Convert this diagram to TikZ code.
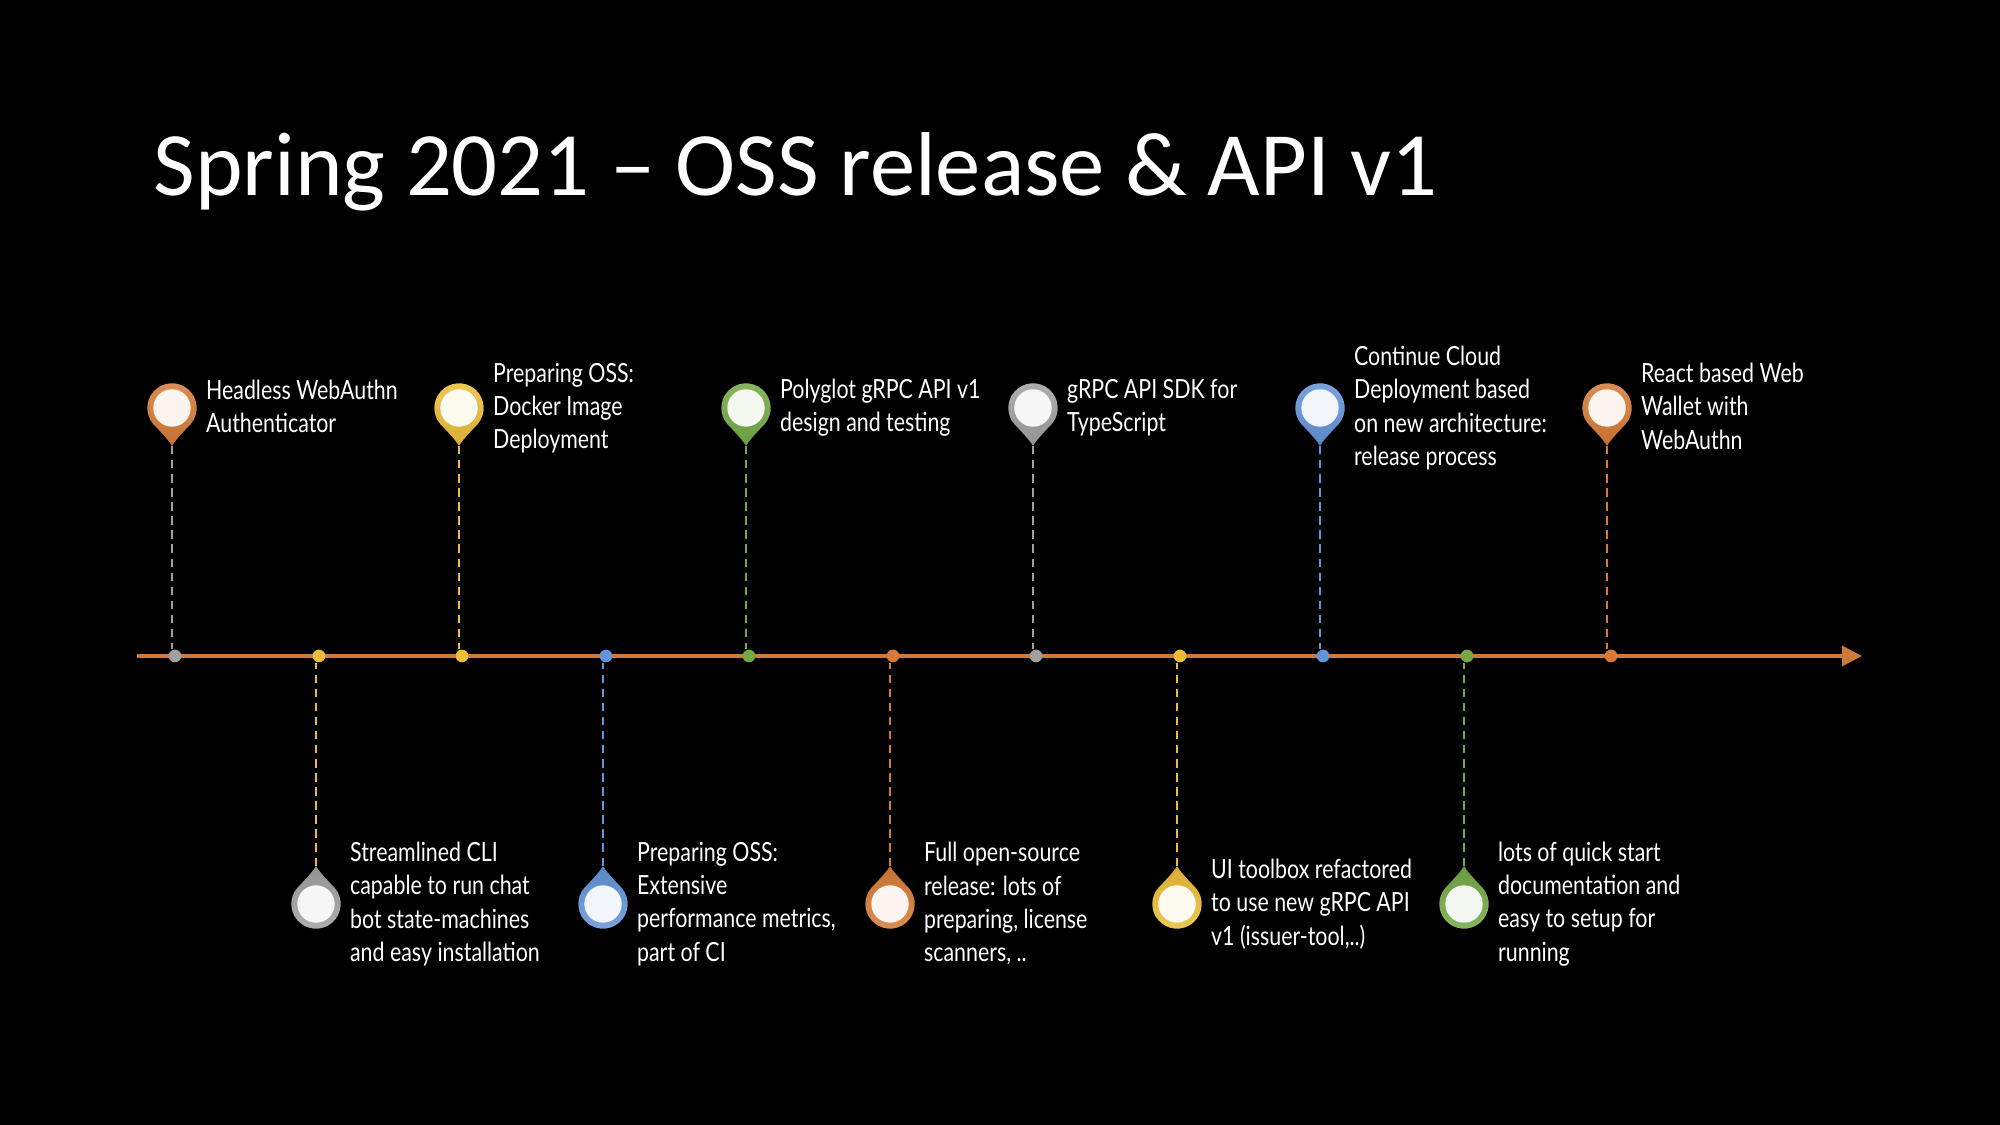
\documentclass[tikz,border=0pt]{standalone}
\usepackage{fontspec}
\setmainfont{Lato}[FakeStretch=0.81]
\newfontfamily\titlefont{Carlito}
\usetikzlibrary{positioning,arrows.meta}

\definecolor{pinorange}{HTML}{D67A36}
\definecolor{pinyellow}{HTML}{EBBD38}
\definecolor{pingreen}{HTML}{74A945}
\definecolor{pingray}{HTML}{A0A0A0}
\definecolor{pinblue}{HTML}{6393D8}
\definecolor{lineorange}{HTML}{CF7A38}

\newcommand{\lblstrut}{\rule[-1.04pt]{0pt}{7.5pt}}

\tikzset{
  lbl/.style={text=white, align=left, inner sep=0pt, font=\fontsize{7.5}{9.47}\selectfont,
    execute at begin node=\lblstrut, execute at end node=\lblstrut},
  ttl/.style={text=white, inner sep=0pt, font=\titlefont\fontsize{25.77}{30}\selectfont},
  dot/.style={circle, inner sep=0pt, minimum size=0.127cm, fill=#1},
  dashline/.style={#1, line width=0.62pt, dash pattern=on 2.4pt off 1.6pt},
  pinup/.pic={
    \fill[top color=#1!85!white, bottom color=#1!92!black]
      (-40.5:24.7) arc (-40.5:220.5:24.7) .. controls (-10,-25) and (-2,-34) .. (0,-38)
      .. controls (2,-34) and (10,-25) .. cycle;
    \node[circle, inner sep=0pt, minimum size=0.374cm, fill=#1!8!white] (-head) at (0,0) {};
    \coordinate (-tip) at (0,-38);
  },
  pindown/.pic={
    \fill[top color=#1!92!black, bottom color=#1!85!white]
      (40.5:24.7) arc (40.5:-220.5:24.7) .. controls (-10,25) and (-2,34) .. (0,38)
      .. controls (2,34) and (10,25) .. cycle;
    \node[circle, inner sep=0pt, minimum size=0.374cm, fill=#1!8!white] (-head) at (0,0) {};
    \coordinate (-tip) at (0,38);
  }
}

\begin{document}
\begin{tikzpicture}[x=0.01cm, y=0.01cm]
	\fill[black] (0,0) rectangle (2000,1125);
	\useasboundingbox (0,0) rectangle (2000,1125);

	\node[ttl, anchor=base west] (title) at (153,929) {Spring 2021 – OSS release \& API v1};

	%axis
	\coordinate (start) at (137,469);
	\coordinate (end) at (1862,469);
	\draw[lineorange, line width=0.95pt, -{Triangle[length=0.2cm, width=0.2cm]}] (start) -- (end);

	\node[dot=pingray] (d1) at (175,469) {};
	\node[dot=pinyellow] (d2) at (319,469) {};
	\node[dot=pinyellow] (d3) at (462,469) {};
	\node[dot=pinblue] (d4) at (606,469) {};
	\node[dot=pingreen] (d5) at (749,469) {};
	\node[dot=pinorange] (d6) at (893,469) {};
	\node[dot=pingray] (d7) at (1036,469) {};
	\node[dot=pinyellow] (d8) at (1180,469) {};
	\node[dot=pinblue] (d9) at (1323,469) {};
	\node[dot=pingreen] (d10) at (1467,469) {};
	\node[dot=pinorange] (d11) at (1611,469) {};

	%upper row
	\pic (p1) at (172,717) {pinup=pinorange};
	\pic (p3) at (459,717) {pinup=pinyellow};
	\pic (p5) at (746,717) {pinup=pingreen};
	\pic (p7) at (1033,717) {pinup=pingray};
	\pic (p9) at (1320,717) {pinup=pinblue};
	\pic (p11) at (1607,717) {pinup=pinorange};

	\draw[dashline=pingray] (p1-tip) -- (p1-tip |- d1.north);
	\draw[dashline=pinyellow] (p3-tip) -- (p3-tip |- d3.north);
	\draw[dashline=pingreen] (p5-tip) -- (p5-tip |- d5.north);
	\draw[dashline=pingray] (p7-tip) -- (p7-tip |- d7.north);
	\draw[dashline=pinblue] (p9-tip) -- (p9-tip |- d9.north);
	\draw[dashline=pinorange] (p11-tip) -- (p11-tip |- d11.north);

	\node[lbl, right=0.14cm of p1-head] (t1) {Headless WebAuthn\\Authenticator};
	\node[lbl, right=0.14cm of p3-head] (t3) {Preparing OSS:\\Docker Image\\Deployment};
	\node[lbl, right=0.14cm of p5-head] (t5) {Polyglot gRPC API v1\\design and testing};
	\node[lbl, right=0.14cm of p7-head] (t7) {gRPC API SDK for\\TypeScript};
	\node[lbl, right=0.14cm of p9-head] (t9) {Continue Cloud\\Deployment based\\on new architecture:\\release process};
	\node[lbl, right=0.14cm of p11-head] (t11) {React based Web\\Wallet with\\WebAuthn};

	%lower row
	\pic (p2) at (316,221) {pindown=pingray};
	\pic (p4) at (603,221) {pindown=pinblue};
	\pic (p6) at (890,221) {pindown=pinorange};
	\pic (p8) at (1177,221) {pindown=pinyellow};
	\pic (p10) at (1464,221) {pindown=pingreen};

	\draw[dashline=pinyellow] (p2-tip) -- (p2-tip |- d2.south);
	\draw[dashline=pinblue] (p4-tip) -- (p4-tip |- d4.south);
	\draw[dashline=pinorange] (p6-tip) -- (p6-tip |- d6.south);
	\draw[dashline=pinyellow] (p8-tip) -- (p8-tip |- d8.south);
	\draw[dashline=pingreen] (p10-tip) -- (p10-tip |- d10.south);

	\node[lbl, right=0.14cm of p2-head] (t2) {Streamlined CLI\\capable to run chat\\bot state-machines\\and easy installation};
	\node[lbl, right=0.14cm of p4-head] (t4) {Preparing OSS:\\Extensive\\performance metrics,\\part of CI};
	\node[lbl, right=0.14cm of p6-head] (t6) {Full open-source\\release: lots of\\preparing, license\\scanners, ..};
	\node[lbl, right=0.14cm of p8-head] (t8) {UI toolbox refactored\\to use new gRPC API\\v1 (issuer-tool,..)};
	\node[lbl, right=0.14cm of p10-head] (t10) {lots of quick start\\documentation and\\easy to setup for\\running};
\end{tikzpicture}
\end{document}
